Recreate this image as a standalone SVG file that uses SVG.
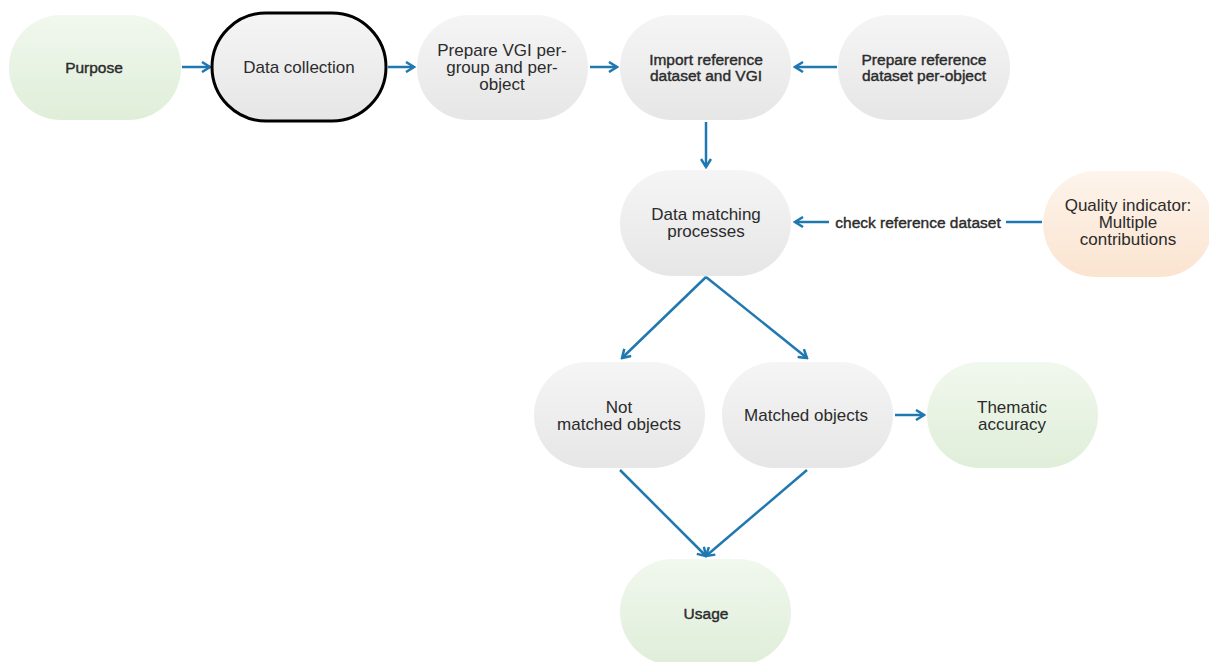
<svg xmlns="http://www.w3.org/2000/svg" width="1209" height="662" viewBox="0 0 1209 662">
<defs>
<linearGradient id="gGrey" x1="0" y1="0" x2="0" y2="1"><stop offset="0" stop-color="#f5f5f5"/><stop offset="1" stop-color="#e6e6e6"/></linearGradient>
<linearGradient id="gGreen" x1="0" y1="0" x2="0" y2="1"><stop offset="0" stop-color="#f1f8ee"/><stop offset="1" stop-color="#dfeed9"/></linearGradient>
<linearGradient id="gOrange" x1="0" y1="0" x2="0" y2="1"><stop offset="0" stop-color="#fdf4ec"/><stop offset="1" stop-color="#fbe4d0"/></linearGradient>
<marker id="arr" viewBox="0 0 12 12" refX="10" refY="6" markerWidth="12" markerHeight="12" markerUnits="userSpaceOnUse" orient="auto">
<path d="M2,1 L10,6 L2,11" fill="none" stroke="#1f78b0" stroke-width="2.5"/>
</marker>
<style>
.grey{fill:url(#gGrey);stroke:none}
.green{fill:url(#gGreen);stroke:none}
.orange{fill:url(#gOrange);stroke:none}
text{font-family:"Liberation Sans",Arial,sans-serif;fill:#2b2b2b;text-anchor:middle;dominant-baseline:central}
.t16{font-size:17px}
.t14{font-size:15.5px;stroke:#2b2b2b;stroke-width:0.4}
.edge{stroke:#1f78b0;stroke-width:2.5;fill:none;marker-end:url(#arr)}
</style>
</defs>
<rect width="1209" height="662" fill="#ffffff"/>
<g id="connectors">
<line class="edge" x1="182" y1="67" x2="210" y2="67"/>
<line class="edge" x1="388" y1="67" x2="414" y2="67"/>
<line class="edge" x1="590" y1="67" x2="617" y2="67"/>
<line class="edge" x1="837" y1="67" x2="795" y2="67"/>
<line class="edge" x1="706" y1="122" x2="706" y2="167"/>
<line class="edge" x1="1042" y1="222" x2="795" y2="222"/>
<rect x="829" y="212" width="177" height="20" fill="#ffffff"/>
<text class="t14" x="918" y="222">check reference dataset</text>
<line class="edge" x1="706" y1="277" x2="622" y2="358"/>
<line class="edge" x1="706" y1="277" x2="807" y2="358"/>
<line class="edge" x1="895" y1="415" x2="924" y2="415"/>
<line class="edge" x1="620" y1="470" x2="706" y2="556"/>
<line class="edge" x1="807" y1="470" x2="706" y2="556"/>
</g>
<g id="purpose"><rect class="green" x="9" y="15" width="172" height="105" rx="52" ry="52"/><text class="t14" x="94" y="67">Purpose</text></g>
<g id="data-collection"><rect class="grey" x="212" y="13" width="174" height="108" rx="54" ry="54" style="stroke:#000;stroke-width:3"/><text class="t16" x="299" y="67">Data collection</text></g>
<g id="prepare-vgi"><rect class="grey" x="417" y="15" width="171" height="105" rx="52" ry="52"/><text class="t16" x="502" y="50">Prepare VGI per-</text><text class="t16" x="502" y="67">group and per-</text><text class="t16" x="502" y="84">object</text></g>
<g id="import"><rect class="grey" x="620" y="15" width="171" height="105" rx="52" ry="52"/><text class="t14" x="706" y="59">Import reference</text><text class="t14" x="706" y="75">dataset and VGI</text></g>
<g id="prepare-ref"><rect class="grey" x="838" y="15" width="172" height="105" rx="52" ry="52"/><text class="t14" x="924" y="59">Prepare reference</text><text class="t14" x="924" y="75">dataset per-object</text></g>
<g id="data-matching"><rect class="grey" x="620" y="170" width="171" height="106" rx="53" ry="53"/><text class="t16" x="706" y="214">Data matching</text><text class="t16" x="706" y="231">processes</text></g>
<g id="quality"><rect class="orange" x="1043" y="171" width="170" height="106" rx="53" ry="53"/><text class="t16" x="1128" y="205">Quality indicator:</text><text class="t16" x="1128" y="222">Multiple</text><text class="t16" x="1128" y="239">contributions</text></g>
<g id="not-matched"><rect class="grey" x="534" y="362" width="171" height="106" rx="53" ry="53"/><text class="t16" x="619" y="407">Not</text><text class="t16" x="619" y="424">matched objects</text></g>
<g id="matched"><rect class="grey" x="722" y="362" width="171" height="106" rx="53" ry="53"/><text class="t16" x="806" y="415">Matched objects</text></g>
<g id="thematic"><rect class="green" x="927" y="362" width="171" height="106" rx="53" ry="53"/><text class="t16" x="1012" y="407">Thematic</text><text class="t16" x="1012" y="424">accuracy</text></g>
<g id="usage"><rect class="green" x="620" y="559" width="171" height="106" rx="53" ry="53"/><text class="t14" x="706" y="613">Usage</text></g>
</svg>
